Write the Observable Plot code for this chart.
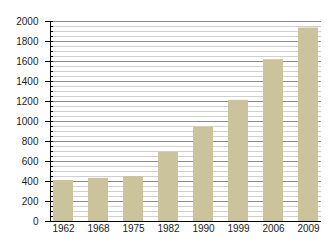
<!DOCTYPE html>
<html>
<head>
<meta charset="utf-8">
<script src="https://cdn.jsdelivr.net/npm/d3@7"></script>
<script src="https://cdn.jsdelivr.net/npm/@observablehq/plot@0.6"></script>
<style>
  html, body { margin: 0; padding: 0; background: #fff; }
  #chart svg { display: block; }
</style>
</head>
<body>
<div id="chart"></div>
<script>
const years = ["1962", "1968", "1975", "1982", "1990", "1999", "2006", "2009"];
const values = [410, 432, 450, 692, 943, 1212, 1618, 1935];
const majorTicks = [0, 200, 400, 600, 800, 1000, 1200, 1400, 1600, 1800, 2000];
const minorTicks = d3.range(0, 2001, 50).filter(v => v % 200 !== 0);

const data = years.map((year, i) => ({year, value: values[i]}));

const chart = Plot.plot({
  width: 330,
  height: 250,
  marginLeft: 51,
  marginRight: 9,
  marginTop: 21,
  marginBottom: 29,
  style: {fontFamily: "'Liberation Sans', Arial, sans-serif", fontSize: "10px", color: "#222", background: "#fff"},
  x: {domain: years, paddingInner: 0.42, paddingOuter: 0, label: null},
  y: {domain: [0, 2000], label: null},
  marks: [
    Plot.gridY(minorTicks, {stroke: "#d0d0d0", strokeOpacity: 1, insetLeft: -1}),
    Plot.gridY(majorTicks, {stroke: "#8c8c8c", strokeOpacity: 1, insetLeft: -1}),
    Plot.barY(data, {x: "year", y: "value", fill: "#cbc39b"}),
    Plot.axisY(majorTicks, {tickSize: 8, dx: 2, tickPadding: 7, stroke: "#000", tickFormat: d3.format("d"), label: null}),
    Plot.axisY(minorTicks, {tickSize: 3, dx: 2, tickFormat: () => "", stroke: "#000", label: null}),
    Plot.frame({anchor: "left", stroke: "#000", dx: -1}),
    Plot.ruleY([0], {stroke: "#000", insetLeft: -6, strokeWidth: 1.2}),
    Plot.axisX({tickSize: 0, tickPadding: 3, label: null})
  ]
});
document.getElementById("chart").append(chart);
</script>
</body>
</html>
